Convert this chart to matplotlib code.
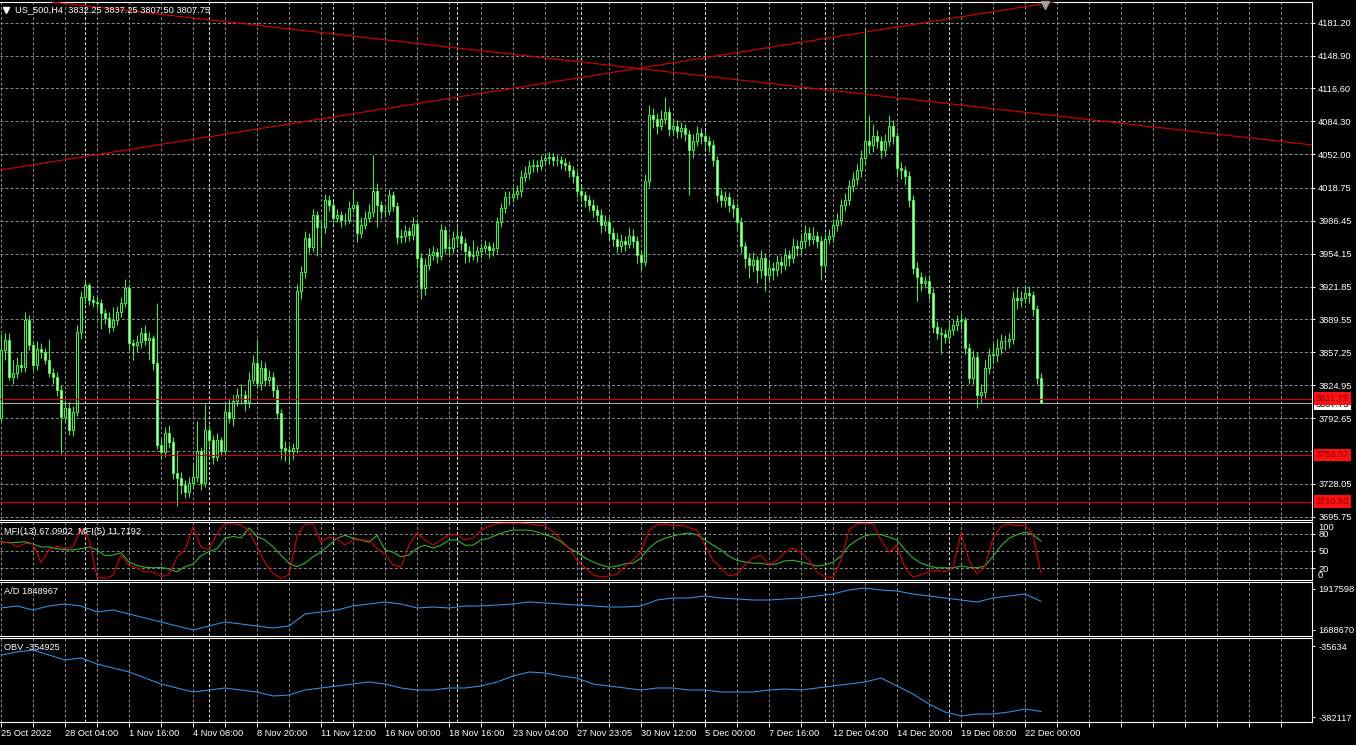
import numpy as np
import matplotlib
matplotlib.use("Agg")
import matplotlib.pyplot as plt
from matplotlib.patches import Rectangle
from matplotlib.transforms import blended_transform_factory

# US_500, H4 candles (bar 0 = 25 Oct 2022)
opens = [3793, 3860, 3869, 3833, 3837, 3845, 3843, 3889, 3864, 3845,
         3861, 3858, 3850, 3837, 3833, 3820, 3794, 3803, 3781, 3799,
         3877, 3912, 3923, 3909, 3907, 3906, 3896, 3891, 3882, 3889,
         3897, 3906, 3920, 3866, 3864, 3867, 3876, 3869, 3871, 3847,
         3766, 3759, 3778, 3769, 3739, 3734, 3727, 3720, 3729, 3735,
         3760, 3729, 3781, 3771, 3754, 3771, 3760, 3799, 3793, 3809,
         3815, 3815, 3808, 3830, 3847, 3827, 3842, 3830, 3833, 3820,
         3798, 3763, 3761, 3760, 3763, 3918, 3936, 3970, 3961, 3992,
         3980, 3980, 4007, 4002, 3989, 3992, 3987, 3987, 3999, 4002,
         3975, 3982, 3989, 3995, 4016, 4002, 3996, 3996, 4012, 4001,
         3971, 3972, 3976, 3973, 3983, 3950, 3920, 3943, 3953, 3956,
         3952, 3977, 3960, 3960, 3970, 3972, 3965, 3957, 3952, 3953,
         3957, 3960, 3962, 3958, 3960, 3985, 3999, 4010, 4010, 4013,
         4016, 4030, 4033, 4040, 4041, 4040, 4046, 4048, 4049, 4046,
         4046, 4043, 4041, 4036, 4031, 4016, 4012, 4007, 4002, 3997,
         3992, 3982, 3985, 3975, 3969, 3962, 3967, 3964, 3972, 3967,
         3953, 3946, 4026, 4090, 4087, 4080, 4087, 4093, 4077, 4080,
         4075, 4078, 4072, 4056, 4065, 4073, 4070, 4065, 4061, 4046,
         4012, 4007, 4010, 4002, 3999, 3985, 3962, 3950, 3943, 3948,
         3938, 3950, 3933, 3940, 3938, 3946, 3943, 3953, 3950, 3962,
         3960, 3967, 3975, 3969, 3972, 3967, 3943, 3969, 3972, 3982,
         3987, 4002, 4007, 4021, 4028, 4036, 4048, 4065, 4061, 4070,
         4065, 4056, 4065, 4080, 4070, 4038, 4036, 4031, 4007, 3940,
         3931, 3925, 3927, 3916, 3882, 3876, 3875, 3872, 3879, 3884,
         3888, 3889, 3862, 3832, 3853, 3815, 3818, 3842, 3855, 3855,
         3862, 3868, 3868, 3870, 3911, 3909, 3911, 3916, 3914, 3900,
         3832.25]
highs = [3875, 3876, 3876, 3850, 3853, 3858, 3897, 3894, 3868, 3868,
         3866, 3862, 3870, 3842, 3838, 3825, 3810, 3808, 3805, 3884,
         3918, 3929, 3925, 3914, 3912, 3910, 3900, 3897, 3902, 3903,
         3912, 3929, 3924, 3870, 3874, 3882, 3884, 3877, 3874, 3906,
         3772, 3784, 3786, 3774, 3760, 3740, 3732, 3735, 3748, 3790,
         3764, 3806, 3786, 3776, 3778, 3774, 3806, 3812, 3815, 3822,
         3826, 3820, 3838, 3855, 3870, 3850, 3848, 3840, 3838, 3825,
         3802, 3770, 3766, 3768, 3924, 3942, 3976, 3975, 3998, 3996,
         3986, 4013, 4012, 4006, 3998, 3996, 3994, 4006, 4017, 4006,
         3990, 3996, 4003, 4051, 4024, 4006, 4002, 4018, 4016, 4005,
         3978, 3982, 3980, 3990, 3987, 3955, 3950, 3960, 3962, 3960,
         3983, 3981, 3970, 3976, 3980, 3976, 3970, 3962, 3968, 3962,
         3965, 3968, 3966, 3966, 3990, 4004, 4016, 4016, 4020, 4022,
         4036, 4040, 4046, 4047, 4046, 4051, 4053, 4054, 4053, 4051,
         4050, 4048, 4045, 4040, 4035, 4022, 4016, 4012, 4008, 4002,
         3998, 3992, 3990, 3980, 3975, 3974, 3972, 3980, 3978, 3972,
         3958, 4032, 4100, 4097, 4092, 4095, 4108, 4098, 4088, 4086,
         4084, 4082, 4076, 4072, 4080, 4078, 4075, 4070, 4066, 4050,
         4018, 4016, 4015, 4008, 4004, 3990, 3966, 3955, 3956, 3952,
         3958, 3955, 3948, 3946, 3953, 3952, 3960, 3958, 3970, 3968,
         3975, 3982, 3980, 3980, 3976, 3972, 3975, 3978, 3988, 3994,
         4008, 4014, 4027, 4034, 4042, 4056, 4175, 4090, 4082, 4076,
         4070, 4072, 4090, 4086, 4074, 4044, 4040, 4035, 4012, 3946,
         3936, 3932, 3932, 3920, 3888, 3882, 3880, 3886, 3890, 3894,
         3896, 3892, 3866, 3860, 3858, 3826, 3850, 3862, 3866, 3870,
         3875, 3874, 3876, 3918, 3920, 3918, 3922, 3922, 3918, 3904,
         3837.25]
lows = [3790, 3850, 3830, 3826, 3832, 3838, 3838, 3860, 3840, 3840,
        3852, 3846, 3833, 3826, 3814, 3757, 3788, 3776, 3775, 3795,
        3870, 3905, 3904, 3902, 3900, 3880, 3885, 3876, 3878, 3884,
        3892, 3902, 3860, 3850, 3858, 3862, 3864, 3850, 3840, 3762,
        3752, 3754, 3763, 3733, 3706, 3718, 3714, 3715, 3724, 3730,
        3722, 3725, 3765, 3748, 3750, 3755, 3756, 3788, 3785, 3805,
        3806, 3800, 3803, 3826, 3822, 3820, 3824, 3826, 3813, 3792,
        3752, 3750, 3748, 3752, 3758, 3910, 3930, 3955, 3956, 3952,
        3960, 3975, 3996, 3984, 3985, 3980, 3982, 3984, 3995, 3966,
        3970, 3978, 3985, 3990, 3980, 3988, 3990, 3992, 3996, 3964,
        3965, 3966, 3967, 3968, 3940, 3910, 3914, 3938, 3948, 3945,
        3948, 3955, 3952, 3955, 3964, 3958, 3945, 3946, 3948, 3946,
        3950, 3955, 3950, 3952, 3955, 3980, 3994, 4002, 4005, 4008,
        4010, 4025, 4028, 4034, 4034, 4036, 4041, 4042, 4040, 4040,
        4037, 4035, 4030, 4024, 4010, 4005, 4000, 3996, 3990, 3985,
        3975, 3976, 3968, 3962, 3955, 3956, 3957, 3960, 3960, 3945,
        3938, 3942, 4020, 4078, 4072, 4076, 4082, 4070, 4072, 4068,
        4068, 4065, 4012, 4048, 4060, 4062, 4058, 4054, 4040, 4005,
        4000, 4000, 3995, 3990, 3978, 3955, 3940, 3930, 3936, 3925,
        3930, 3918, 3926, 3928, 3932, 3935, 3938, 3942, 3945, 3952,
        3954, 3960, 3962, 3964, 3960, 3928, 3938, 3964, 3966, 3976,
        3982, 3996, 4002, 4015, 4022, 4030, 4042, 4052, 4054, 4058,
        4048, 4050, 4060, 4062, 4030, 4028, 4022, 4000, 3934, 3908,
        3918, 3920, 3910, 3876, 3870, 3856, 3866, 3868, 3874, 3878,
        3880, 3856, 3826, 3826, 3803, 3808, 3812, 3836, 3846, 3848,
        3856, 3860, 3862, 3865, 3900, 3902, 3906, 3906, 3893, 3826,
        3807.50]
closes = [3860, 3869, 3833, 3837, 3845, 3843, 3889, 3864, 3845, 3861,
          3858, 3850, 3837, 3833, 3820, 3794, 3803, 3781, 3799, 3877,
          3912, 3923, 3909, 3907, 3906, 3896, 3891, 3882, 3889, 3897,
          3906, 3920, 3866, 3864, 3867, 3876, 3869, 3871, 3847, 3766,
          3759, 3778, 3769, 3739, 3734, 3727, 3720, 3729, 3735, 3760,
          3729, 3781, 3771, 3754, 3771, 3760, 3799, 3793, 3809, 3815,
          3815, 3808, 3830, 3847, 3827, 3842, 3830, 3833, 3820, 3798,
          3763, 3761, 3760, 3763, 3918, 3936, 3970, 3961, 3992, 3980,
          3980, 4007, 4002, 3989, 3992, 3987, 3987, 3999, 4002, 3975,
          3982, 3989, 3995, 4016, 4002, 3996, 3996, 4012, 4001, 3971,
          3972, 3976, 3973, 3983, 3950, 3920, 3943, 3953, 3956, 3952,
          3977, 3960, 3960, 3970, 3972, 3965, 3957, 3952, 3953, 3957,
          3960, 3962, 3958, 3960, 3985, 3999, 4010, 4010, 4013, 4016,
          4030, 4033, 4040, 4041, 4040, 4046, 4048, 4049, 4046, 4046,
          4043, 4041, 4036, 4031, 4016, 4012, 4007, 4002, 3997, 3992,
          3982, 3985, 3975, 3969, 3962, 3967, 3964, 3972, 3967, 3953,
          3946, 4026, 4090, 4087, 4080, 4087, 4093, 4077, 4080, 4075,
          4078, 4072, 4056, 4065, 4073, 4070, 4065, 4061, 4046, 4012,
          4007, 4010, 4002, 3999, 3985, 3962, 3950, 3943, 3948, 3938,
          3950, 3933, 3940, 3938, 3946, 3943, 3953, 3950, 3962, 3960,
          3967, 3975, 3969, 3972, 3967, 3943, 3969, 3972, 3982, 3987,
          4002, 4007, 4021, 4028, 4036, 4048, 4065, 4061, 4070, 4065,
          4056, 4065, 4080, 4070, 4038, 4036, 4031, 4007, 3940, 3931,
          3925, 3927, 3916, 3882, 3876, 3875, 3872, 3879, 3884, 3888,
          3889, 3862, 3832, 3853, 3815, 3818, 3842, 3855, 3855, 3862,
          3868, 3868, 3870, 3911, 3909, 3911, 3916, 3914, 3900, 3832.25,
          3807.75]

time_labels = ["25 Oct 2022", "28 Oct 04:00", "1 Nov 16:00", "4 Nov 08:00",
               "8 Nov 20:00", "11 Nov 12:00", "16 Nov 00:00", "18 Nov 16:00",
               "23 Nov 04:00", "27 Nov 23:05", "30 Nov 12:00", "5 Dec 00:00",
               "7 Dec 16:00", "12 Dec 04:00", "14 Dec 20:00", "19 Dec 08:00",
               "22 Dec 00:00"]
price_levels = [4181.20, 4148.90, 4116.60, 4084.30, 4052.00, 4018.75, 3986.45,
                3954.15, 3921.85, 3889.55, 3857.25, 3824.95, 3792.65, 3760.35,
                3728.05, 3695.75]
hidden_level = 3760.35   # its label sits under the 3756.57 box
red_levels = [3811.72, 3756.57, 3710.53]
bid_price = 3807.75
trend_up = [(0, 4036.5), (262, 4200.7)]
trend_down = [(15, 4200.5), (328, 4061.0)]
separator_bars = [21, 52, 83, 114, 145, 176, 206, 237]

# indicators, one value every 2 bars (MFI) / 4 bars (A/D, OBV)
mfi13 = [66, 64, 65, 66, 62, 57, 57, 54, 52, 52,
         54, 57, 52, 42, 43, 47, 31, 25, 22, 21,
         22, 19, 14, 23, 27, 42, 49, 54, 72, 75,
         73, 90, 75, 69, 57, 43, 29, 23, 29, 40,
         48, 60, 72, 77, 72, 69, 65, 77, 52, 48,
         40, 43, 55, 60, 55, 60, 69, 69, 60, 60,
         69, 72, 78, 83, 86, 86, 86, 83, 78, 74,
         66, 55, 48, 38, 31, 26, 22, 24, 28, 29,
         38, 55, 66, 72, 76, 79, 81, 78, 69, 60,
         52, 41, 34, 31, 29, 29, 26, 28, 33, 34,
         31, 28, 24, 26, 31, 41, 59, 69, 76, 79,
         78, 74, 69, 52, 38, 29, 24, 21, 21, 21,
         24, 22, 21, 24, 41, 59, 72, 78, 83, 78,
         67.0902]
mfi5 = [63, 66, 57, 63, 62, 30, 52, 58, 54, 57,
        89, 70, 5, 3, 8, 43, 25, 21, 14, 14,
        6, 9, 40, 52, 92, 57, 52, 80, 97, 97,
        95, 85, 57, 30, 11, 3, 9, 75, 96, 97,
        65, 74, 71, 60, 69, 69, 69, 54, 45, 26,
        22, 60, 81, 69, 60, 69, 78, 78, 69, 72,
        86, 93, 97, 98, 98, 98, 97, 95, 93, 83,
        69, 55, 34, 21, 9, 5, 7, 10, 24, 34,
        48, 86, 95, 97, 93, 95, 90, 86, 60, 34,
        21, 7, 10, 26, 38, 43, 26, 34, 48, 55,
        48, 34, 14, 5, 5, 34, 86, 97, 98, 97,
        69, 48, 60, 21, 5, 9, 14, 17, 14, 21,
        81, 34, 10, 24, 72, 93, 97, 93, 95, 78,
        11.7192]
ad_values = [1811500, 1822700, 1800300, 1822700, 1833800, 1822700, 1789200, 1800300, 1778000, 1755700,
             1733300, 1711000, 1688700, 1711000, 1733300, 1722200, 1711000, 1699800, 1711000, 1778000,
             1789200, 1800300, 1822700, 1833800, 1845000, 1833800, 1811500, 1817100, 1811500, 1822700,
             1822700, 1828300, 1833800, 1845000, 1839400, 1833800, 1828300, 1822700, 1817100, 1817100,
             1822700, 1856200, 1867300, 1867300, 1878500, 1867300, 1861800, 1856200, 1856200, 1861800,
             1867300, 1878500, 1889700, 1912000, 1923200, 1912000, 1906400, 1889700, 1878500, 1867300,
             1856200, 1845000, 1867300, 1878500, 1889700, 1848967]
obv_values = [-79600, -64900, -55200, -79600, -104000, -94200, -123500, -143000, -162500, -191800,
              -221100, -240600, -260100, -250400, -240600, -250400, -260100, -279600, -274800, -250400,
              -240600, -230800, -221100, -211300, -221100, -240600, -250400, -250400, -240600, -240600,
              -230800, -211300, -182000, -162500, -167400, -182000, -191800, -221100, -230800, -240600,
              -250400, -240600, -240600, -250400, -250400, -260100, -260100, -260100, -250400, -245500,
              -250400, -240600, -230800, -221100, -211300, -191800, -230800, -269900, -318700, -357700,
              -377200, -367500, -367500, -357700, -343100, -354925]

plt.rcParams['font.family'] = ['Liberation Sans', 'DejaVu Sans']
FS = 6.7
GREEN = '#3df03d'
GRID = '#8c8c8c'
SEP = '#e6e6e6'
RED = '#d80000'
BLUE = '#2a96f0'
DASH = (0, (3, 2.2))

W, H = 1356, 745
fig = plt.figure(figsize=(W / 100, H / 100), dpi=100, facecolor='black')


def panel(top, bottom):
    ax = fig.add_axes([0, 1 - bottom / H, 1312 / W, (bottom - top) / H])
    ax.set_facecolor('black')
    ax.set_xlim(-0.25, 327.75)
    for side in ('top', 'bottom', 'right'):
        ax.spines[side].set_color('white')
        ax.spines[side].set_linewidth(0.8)
    ax.spines['left'].set_visible(False)
    ax.tick_params(axis='x', which='both', bottom=False, labelbottom=False)
    ax.yaxis.tick_right()
    ax.tick_params(axis='y', which='both', colors='white', labelsize=FS,
                   length=2.5, width=0.7, pad=2, direction='out')
    for b in range(0, 329, 8):
        ax.axvline(b, color=GRID, lw=0.7, ls=DASH, zorder=0)
    for b in separator_bars:
        ax.axvline(b, color=SEP, lw=0.7, ls=DASH, zorder=0.5)
    return ax


# main price window
ax = panel(2, 520)
ax.set_ylim(3692.5, 4201.5)
for p in price_levels:
    ax.axhline(p, color=GRID, lw=0.7, ls=DASH, zorder=0)
shown = [p for p in price_levels if p != hidden_level]
ax.set_yticks(shown)
ax.set_yticklabels([f"{p:.2f}" for p in shown])

for i in range(len(closes)):
    o, h, l, c = opens[i], highs[i], lows[i], closes[i]
    ax.vlines(i, l, h, color=GREEN, lw=0.75, zorder=3)
    fc = 'black' if c >= o else '#d8ffd8'
    ax.add_patch(Rectangle((i - 0.25, min(o, c)), 0.5, max(abs(c - o), 0.3),
                           facecolor=fc, edgecolor=GREEN, lw=0.75, zorder=4))

ax.axline(trend_up[0], trend_up[1], color=RED, lw=0.8, zorder=5)
ax.axline(trend_down[0], trend_down[1], color=RED, lw=0.8, zorder=5)
ax.axhline(bid_price, color='#b0b0b0', lw=0.75, zorder=5)
for p in red_levels:
    ax.axhline(p, color=RED, lw=0.8, zorder=5)

tr = blended_transform_factory(ax.transAxes, ax.transData)
ax.text(1.003, bid_price - 1.5, f"{bid_price:.2f}", transform=tr, fontsize=FS, color='black',
        va='center', ha='left', clip_on=False, zorder=6,
        bbox=dict(boxstyle='square,pad=0.18', fc='white', ec='none'))
for p in red_levels:
    ax.text(1.003, p, f"{p:.2f}", transform=tr, fontsize=FS, color='#7a0000',
            va='center', ha='left', clip_on=False, zorder=7,
            bbox=dict(boxstyle='square,pad=0.18', fc='#ff1010', ec='none'))

# chart shift marker
ax.plot([261], [0.994], marker='v', ms=5.5, color='#a0a0a0',
        transform=ax.get_xaxis_transform(), clip_on=False, zorder=8)

fig.text(15 / W, 1 - 10 / H, "US_500,H4  3832.25 3837.25 3807.50 3807.75",
         color='white', fontsize=FS, va='center', ha='left')
fig.lines.append(plt.Line2D([6 / W], [1 - 10 / H], marker='v', ms=4, color='white',
                            transform=fig.transFigure))

# MFI window
ax_m = panel(522, 580)
ax_m.set_ylim(0, 100)
for lv in (20, 50, 80):
    ax_m.axhline(lv, color=GRID, lw=0.7, ls=DASH, zorder=0)
ax_m.set_yticks([20, 50, 80])
ax_m.set_yticklabels(['20', '50', '80'])
mfi_x = np.arange(0, 261, 2)
ax_m.plot(mfi_x, mfi13, color='#2fc02f', lw=0.75, zorder=3)
ax_m.plot(mfi_x, mfi5, color='#e00000', lw=0.75, zorder=4)
fig.text(1318 / W, 1 - 527 / H, "100", color='white', fontsize=FS, va='center')
fig.text(1318 / W, 1 - 575 / H, "0", color='white', fontsize=FS, va='center')
fig.text(4 / W, 1 - 531 / H, "MFI(13) 67.0902  MFI(5) 11.7192", color='white',
         fontsize=FS, va='center')

# A/D window
ax_a = panel(582, 636)
ax_a.set_ylim(1655150, 1956686)
ax_a.set_yticks([1688670, 1917598])
ax_a.set_yticklabels(['1688670', '1917598'])
ind_x = np.arange(0, 261, 4)
ax_a.plot(ind_x, ad_values, color=BLUE, lw=0.75, zorder=3)
fig.text(4 / W, 1 - 592 / H, "A/D 1848967", color='white', fontsize=FS, va='center')

# OBV window
ax_o = panel(638, 722)
ax_o.set_ylim(-406514, 3406)
ax_o.set_yticks([-382117, -35634])
ax_o.set_yticklabels(['-382117', '-35634'])
ax_o.plot(ind_x, obv_values, color=BLUE, lw=0.75, zorder=3)
fig.text(4 / W, 1 - 647 / H, "OBV -354925", color='white', fontsize=FS, va='center')

ticks = list(range(0, 328, 8))
labels = [time_labels[t // 16] if t % 16 == 0 and t // 16 < len(time_labels) else '' for t in ticks]
ax_o.set_xticks(ticks)
ax_o.set_xticklabels(labels)
ax_o.tick_params(axis='x', which='both', bottom=True, labelbottom=True, colors='white',
                 labelsize=FS, length=3.6, width=0.7, pad=1.5, direction='out')
for t in ax_o.get_xticklabels():
    t.set_ha('left')

fig.savefig('out.png', dpi=100, facecolor='black')
